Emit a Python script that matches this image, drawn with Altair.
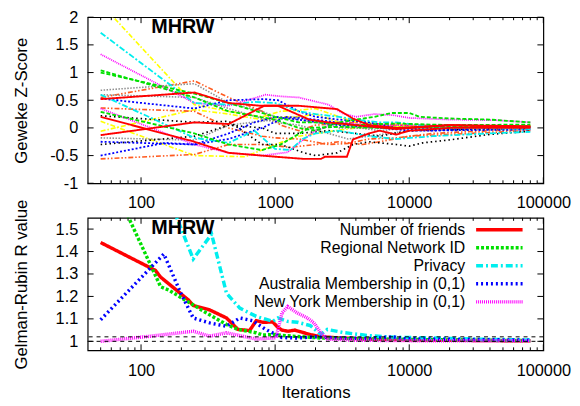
import altair as alt
import pandas as pd

# ---------------- top panel: Geweke Z-score of individual chains ----------------
yel_a_x = [50, 250, 450, 800, 1100, 1500, 2000, 3000, 4000, 6000, 8000, 12000, 20000, 40000, 80000]
yel_a_y = [2.25, 0.42, 0.30, 0.20, 0.30, 0.32, 0.35, 0.20, 0.10, 0.05, 0.08, 0.02, 0.05, 0.03, 0.04]
yel_b_x = [50, 250, 450, 800, 1100, 1500, 2000, 3000, 4000, 8000, 20000, 80000]
yel_b_y = [-0.06, 0.33, 0.25, 0.15, 0.20, 0.20, 0.25, 0.10, 0.05, 0.02, -0.02, 0.02]
yel_c_x = [50, 250, 600, 1000, 1500, 2000, 4000, 10000, 80000]
yel_c_y = [0.12, -0.50, -0.52, -0.30, -0.15, -0.10, 0.00, 0.05, 0.00]
cya_a_x = [50, 250, 450, 700, 1000, 1500, 2000, 3000, 4000, 6000, 8000, 12000, 20000, 40000, 80000]
cya_a_y = [1.72, 0.45, 0.42, 0.47, 0.45, 0.30, 0.25, 0.20, 0.15, 0.10, 0.10, 0.05, 0.00, 0.00, -0.02]
cya_b_x = [50, 250, 450, 700, 1000, 1300, 1600, 2000, 3000, 5000, 8000, 15000, 26000, 40000, 80000]
cya_b_y = [0.60, -0.18, -0.27, -0.05, -0.38, -0.40, -0.20, -0.10, -0.05, -0.15, -0.20, -0.15, -0.12, -0.10, -0.07]
mag_a_x = [50, 250, 450, 850, 1100, 1500, 2500, 3200, 4000, 5500, 7600, 10000, 20000, 44000, 80000]
mag_a_y = [1.33, 0.45, 0.40, 0.60, 0.57, 0.55, 0.42, 0.26, 0.20, 0.25, 0.23, 0.18, 0.15, 0.14, 0.10]
mag_b_x = [50, 250, 450, 800, 1240, 1640, 2000, 3000, 5000, 10000, 80000]
mag_b_y = [0.35, -0.30, -0.45, -0.50, -0.44, -0.20, -0.05, 0.10, 0.05, 0.05, 0.03]
grn_a_x = [50, 250, 450, 1000, 1500, 2000, 3000, 4000, 5500, 7400, 10000, 12000, 20000, 40000, 80000]
grn_a_y = [1.04, 0.55, 0.30, 0.15, 0.00, -0.05, 0.10, 0.15, 0.20, 0.27, 0.27, 0.20, 0.17, 0.15, 0.10]
grn_b_x = [50, 250, 450, 1000, 1500, 2000, 4000, 8000, 20000, 80000]
grn_b_y = [1.00, 0.62, 0.45, 0.20, 0.10, 0.10, 0.05, 0.08, 0.05, 0.06]
grn_c_x = [50, 250, 450, 800, 1100, 1400, 1800, 3000, 6000, 20000, 80000]
grn_c_y = [0.29, -0.10, -0.30, -0.40, -0.30, -0.15, 0.00, 0.02, 0.00, 0.02, 0.03]
gry_a_x = [50, 250, 450, 800, 1000, 1500, 2000, 3000, 6000, 10000, 80000]
gry_a_y = [0.68, 0.80, 0.45, 0.30, 0.20, 0.15, 0.10, 0.05, -0.05, 0.00, 0.02]
gry_b_x = [50, 250, 450, 1000, 1500, 2500, 3500, 5000, 10000, 80000]
gry_b_y = [0.60, 0.55, 0.35, 0.10, 0.05, -0.10, -0.20, -0.15, -0.05, -0.02]
gry_c_x = [50, 250, 450, 1000, 1500, 3000, 6000, 80000]
gry_c_y = [-0.18, -0.22, 0.05, 0.15, 0.20, 0.00, 0.00, 0.00]
red_a_x = [50, 250, 450, 780, 1500, 2900, 3800, 5000, 8000, 12000, 20000, 40000, 80000]
red_a_y = [0.52, 0.64, 0.45, 0.40, 0.40, 0.34, 0.17, 0.05, 0.00, 0.02, 0.05, 0.03, 0.02]
red_b_x = [50, 250, 450, 830, 1050, 1300, 1800, 2500, 4000, 8000, 20000, 80000]
red_b_y = [-0.13, 0.10, 0.07, 0.40, 0.40, 0.30, 0.15, 0.10, 0.05, -0.02, 0.05, 0.03]
red_c_x = [50, 250, 450, 1000, 1640, 2200, 2350, 3430, 3800, 5000, 6000, 8000, 10000, 20000, 80000]
red_c_y = [0.20, -0.25, -0.45, -0.52, -0.56, -0.56, -0.52, -0.52, -0.21, -0.10, -0.05, -0.12, -0.05, 0.00, 0.00]
blu_a_x = [50, 250, 450, 830, 1050, 1500, 2000, 3000, 5000, 8000, 15000, 40000, 80000]
blu_a_y = [0.53, 0.35, 0.50, 0.52, 0.50, 0.30, 0.20, 0.15, 0.10, 0.00, -0.05, 0.00, 0.02]
blu_b_x = [50, 250, 450, 800, 1200, 2000, 4000, 10000, 80000]
blu_b_y = [-0.25, -0.30, -0.20, 0.00, 0.20, 0.15, 0.05, -0.05, -0.03]
blu_c_x = [50, 150, 250, 450, 700, 1000, 1500, 3000, 8000, 80000]
blu_c_y = [-0.50, -0.27, -0.30, -0.10, 0.10, 0.20, 0.15, 0.05, 0.00, 0.00]
orn_a_x = [50, 250, 450, 800, 1100, 1500, 2000, 4000, 8000, 80000]
orn_a_y = [0.55, 0.85, 0.55, 0.30, 0.05, -0.05, 0.05, 0.10, 0.05, 0.02]
orn_b_x = [50, 250, 450, 800, 1000, 1500, 2500, 3500, 5000, 8000, 15000, 40000, 80000]
orn_b_y = [0.36, 0.30, 0.00, -0.15, -0.18, -0.20, -0.30, -0.28, -0.20, -0.18, -0.10, -0.05, -0.03]
orn_c_x = [50, 250, 450, 800, 1300, 2000, 3000, 4500, 6000, 10000, 80000]
orn_c_y = [-0.56, -0.48, -0.30, -0.30, -0.35, -0.30, -0.25, -0.30, -0.25, -0.15, -0.05]
blk_a_x = [50, 250, 450, 800, 1100, 1640, 2000, 2900, 3800, 5000, 8000, 10000, 12600, 21000, 39000, 78000]
blk_a_y = [0.22, 0.10, 0.12, -0.30, -0.30, -0.45, -0.50, -0.45, -0.30, -0.25, -0.30, -0.33, -0.27, -0.21, -0.12, -0.06]
blk_b_x = [50, 250, 450, 800, 1000, 1500, 2500, 4000, 6000, 10000, 80000]
blk_b_y = [-0.30, -0.15, 0.05, 0.00, -0.10, -0.10, -0.05, -0.10, -0.15, -0.05, 0.00]

top_lines = [
    ("ya", "yellow", yel_a_x, yel_a_y), ("yb", "yellow", yel_b_x, yel_b_y), ("yc", "yellow", yel_c_x, yel_c_y),
    ("oa", "orange", orn_a_x, orn_a_y), ("ob", "orange", orn_b_x, orn_b_y), ("oc", "orange", orn_c_x, orn_c_y),
    ("ga", "gray", gry_a_x, gry_a_y), ("gb", "gray", gry_b_x, gry_b_y), ("gc", "gray", gry_c_x, gry_c_y),
    ("ka", "black", blk_a_x, blk_a_y), ("kb", "black", blk_b_x, blk_b_y),
    ("ma", "magenta", mag_a_x, mag_a_y), ("mb", "magenta", mag_b_x, mag_b_y),
    ("ba", "blue", blu_a_x, blu_a_y), ("bb", "blue", blu_b_x, blu_b_y), ("bc", "blue", blu_c_x, blu_c_y),
    ("ca", "cyan", cya_a_x, cya_a_y), ("cb", "cyan", cya_b_x, cya_b_y),
    ("na", "green", grn_a_x, grn_a_y), ("nb", "green", grn_b_x, grn_b_y), ("nc", "green", grn_c_x, grn_c_y),
    ("ra", "red", red_a_x, red_a_y), ("rb", "red", red_b_x, red_b_y), ("rc", "red", red_c_x, red_c_y),
]

kinds = ["red", "green", "cyan", "blue", "magenta", "black", "yellow", "orange", "gray"]
kind_colors = ["#ff0000", "#00e000", "#00eeee", "#0000ff", "#ff00ff", "#000000", "#ffff00", "#ff5a1e", "#909090"]
kind_dash = [[1, 0], [4, 2], [6, 2, 2, 2], [2, 2], [1, 1], [1.5, 3], [5, 2, 1.5, 2], [5, 2, 1.5, 2, 1.5, 2], [1.5, 1.5]]
kind_width = [1.9, 1.6, 1.6, 1.6, 1.5, 1.6, 1.6, 1.6, 1.5]

# ---------------- bottom panel: Gelman-Rubin R ----------------
gr_names = ["Number of friends", "Regional Network ID", "Privacy",
            "Australia Membership in (0,1)", "New York Membership in (0,1)"]
gr_colors = ["#ff0000", "#00e000", "#00eeee", "#0000ff", "#ff00ff"]
gr_dash = [[1, 0], [3, 2], [7, 3, 2, 3], [2, 3], [1, 1]]

friends_x = [50, 128, 140, 226, 245, 325, 434, 528, 645, 723, 810, 960, 1050, 1125, 1250, 1400, 1600, 1830, 2200, 3000, 5000, 10000, 20000, 80000]
friends_y = [1.44, 1.316, 1.286, 1.184, 1.16, 1.14, 1.104, 1.053, 1.048, 1.092, 1.085, 1.086, 1.062, 1.05, 1.045, 1.05, 1.04, 1.03, 1.02, 1.015, 1.01, 1.007, 1.005, 1.002]
regional_x = [50, 81, 140, 161, 233, 325, 434, 528, 723, 810, 985, 1200, 1600, 2200, 3500, 6000, 12000, 30000, 80000]
regional_y = [1.82, 1.55, 1.243, 1.228, 1.17, 1.118, 1.075, 1.053, 1.038, 1.028, 1.03, 1.025, 1.02, 1.015, 1.012, 1.01, 1.008, 1.005, 1.003]
privacy_x = [50, 120, 185, 245, 336, 434, 545, 723, 960, 1050, 1240, 1466, 1830, 2190, 2450, 3240, 5070, 8000, 15000, 30000, 80000]
privacy_y = [2.6, 1.9, 1.55, 1.367, 1.477, 1.214, 1.148, 1.111, 1.089, 1.104, 1.089, 1.085, 1.07, 1.031, 1.053, 1.039, 1.025, 1.018, 1.015, 1.01, 1.006]
australia_x = [50, 148, 196, 245, 325, 434, 545, 680, 850, 1125, 1466, 2000, 3000, 5000, 7500, 9000, 15000, 30000, 80000]
australia_y = [1.096, 1.389, 1.22, 1.104, 1.082, 1.067, 1.104, 1.092, 1.053, 1.017, 1.015, 1.02, 1.015, 1.012, 1.02, 1.012, 1.01, 1.008, 1.005]
newyork_x = [50, 118, 245, 325, 434, 723, 1015, 1125, 1240, 1466, 1740, 1950, 2190, 2450, 4000, 10000, 80000]
newyork_y = [1.0, 1.023, 1.045, 1.023, 1.038, 1.01, 1.016, 1.126, 1.155, 1.126, 1.104, 1.082, 1.038, 1.01, 1.005, 1.003, 1.002]
gr_series = [(friends_x, friends_y), (regional_x, regional_y), (privacy_x, privacy_y),
             (australia_x, australia_y), (newyork_x, newyork_y)]
gr_refs = [1.0, 1.02]

# axis ticks
x_major = [100, 1000, 10000, 100000]
x_minor = [50, 60, 70, 80, 90, 200, 300, 400, 500, 600, 700, 800, 900,
           2000, 3000, 4000, 5000, 6000, 7000, 8000, 9000,
           20000, 30000, 40000, 50000, 60000, 70000, 80000, 90000]
top_yticks = [-1, -0.5, 0, 0.5, 1, 1.5, 2]
bot_yticks = [1, 1.1, 1.2, 1.3, 1.4, 1.5]

# ---------------- build tables ----------------
rows = []
for sid, kind, xs, ys in top_lines:
    for i, (xv, yv) in enumerate(zip(xs, ys)):
        rows.append({"sid": sid, "kind": kind, "x": xv, "y": yv, "o": i})
df_top = pd.DataFrame(rows)

rows = []
for name, (xs, ys) in zip(gr_names, gr_series):
    for i, (xv, yv) in enumerate(zip(xs, ys)):
        rows.append({"series": name, "x": xv, "y": yv, "o": i})
df_bot = pd.DataFrame(rows)
df_leg = pd.DataFrame({"series": gr_names, "row": list(range(len(gr_names)))})

FONT = "Liberation Sans"
W = 461
H1 = 168
H2 = 134
xscale = alt.Scale(type="log", domain=[40, 100000], nice=False)


def x_axis(title=None, title_y=None):
    kw = dict(values=x_major, labelExpr="datum.value + ''", ticks=False, tickSize=0, domain=False,
              grid=False, labelBaseline="alphabetic", labelPadding=25, labelFontSize=16.5,
              labelFont=FONT, labelColor="black", labelFlush=False)
    if title:
        kw.update(title=title, titleFont=FONT, titleFontSize=17, titleFontWeight="normal",
                  titleColor="black", titleBaseline="alphabetic", titleY=title_y, titleX=W / 2)
    else:
        kw.update(title=None)
    return alt.Axis(**kw)


def y_axis(title, values, H):
    return alt.Axis(values=values, labelExpr="datum.value + ''", ticks=False, tickSize=0, domain=False,
                    grid=False, labelPadding=10, labelFontSize=16.5, labelFont=FONT, labelColor="black",
                    labelFlush=False, labelBaseline="middle",
                    title=title, titleFont=FONT, titleFontSize=17, titleFontWeight="normal",
                    titleColor="black", titleX=-62, titleY=H / 2, titleBaseline="alphabetic",
                    titleAlign="center")


def tick_layers(xaxis, yscale, yaxis, yvals, H):
    dmaj = pd.DataFrame({"x": x_major})
    dmin = pd.DataFrame({"x": x_minor})
    dy = pd.DataFrame({"y": yvals})
    xt = alt.X("x:Q", scale=xscale, axis=xaxis)
    yt = alt.Y("y:Q", scale=yscale, axis=yaxis)
    base = dict(color="black", strokeWidth=1)
    return [
        alt.Chart(dmaj).mark_rule(**base).encode(x=xt, y=alt.value(H), y2=alt.value(H - 6)),
        alt.Chart(dmaj).mark_rule(**base).encode(x=xt, y=alt.value(0), y2=alt.value(6)),
        alt.Chart(dmin).mark_rule(**base).encode(x=xt, y=alt.value(H), y2=alt.value(H - 3)),
        alt.Chart(dmin).mark_rule(**base).encode(x=xt, y=alt.value(0), y2=alt.value(3)),
        alt.Chart(dy).mark_rule(**base).encode(y=yt, x=alt.value(0), x2=alt.value(6)),
        alt.Chart(dy).mark_rule(**base).encode(y=yt, x=alt.value(W - 6), x2=alt.value(W)),
    ]


# ---------------- top chart ----------------
yscale_top = alt.Scale(domain=[-1, 2], nice=False, zero=False)
xax_top = x_axis()
yax_top = y_axis("Geweke Z-Score", top_yticks, H1)
top_main = alt.Chart(df_top).mark_line(clip=True).encode(
    x=alt.X("x:Q", scale=xscale, axis=xax_top),
    y=alt.Y("y:Q", scale=yscale_top, axis=yax_top),
    color=alt.Color("kind:N", scale=alt.Scale(domain=kinds, range=kind_colors), legend=None),
    strokeDash=alt.StrokeDash("kind:N", scale=alt.Scale(domain=kinds, range=kind_dash), legend=None),
    strokeWidth=alt.StrokeWidth("kind:N", scale=alt.Scale(domain=kinds, range=kind_width), legend=None),
    detail="sid:N",
    order="o:Q",
)
lab_top = alt.Chart(pd.DataFrame({"x": [205], "y": [1.82], "t": ["MHRW"]})).mark_text(
    font=FONT, fontSize=20, fontWeight="bold", color="black", baseline="middle", align="center"
).encode(x=alt.X("x:Q", scale=xscale, axis=xax_top), y=alt.Y("y:Q", scale=yscale_top, axis=yax_top), text="t:N")

top = alt.layer(top_main, lab_top, *tick_layers(xax_top, yscale_top, yax_top, top_yticks, H1)).properties(
    width=W, height=H1)

# ---------------- bottom chart ----------------
yscale_bot = alt.Scale(domain=[0.96, 1.55], nice=False, zero=False)
xax_bot = x_axis("Iterations", 48)
yax_bot = y_axis("Gelman-Rubin R value", bot_yticks, H2)
bot_lines = alt.Chart(df_bot).mark_line(clip=True, strokeWidth=3.5).encode(
    x=alt.X("x:Q", scale=xscale, axis=xax_bot),
    y=alt.Y("y:Q", scale=yscale_bot, axis=yax_bot),
    color=alt.Color("series:N", scale=alt.Scale(domain=gr_names, range=gr_colors), legend=None),
    strokeDash=alt.StrokeDash("series:N", scale=alt.Scale(domain=gr_names, range=gr_dash), legend=None),
    detail="series:N",
    order="o:Q",
)
bot_refs = alt.Chart(pd.DataFrame({"y": gr_refs})).mark_rule(
    color="black", strokeWidth=1, strokeDash=[4, 4]
).encode(y=alt.Y("y:Q", scale=yscale_bot, axis=yax_bot))
lab_bot = alt.Chart(pd.DataFrame({"x": [205], "y": [1.505], "t": ["MHRW"]})).mark_text(
    font=FONT, fontSize=20, fontWeight="bold", color="black", baseline="middle", align="center"
).encode(x=alt.X("x:Q", scale=xscale, axis=xax_bot), y=alt.Y("y:Q", scale=yscale_bot, axis=yax_bot), text="t:N")

bot_inner = alt.layer(bot_lines, bot_refs, lab_bot, *tick_layers(xax_bot, yscale_bot, yax_bot, bot_yticks, H2))

leg_y = alt.Y("row:Q", scale=alt.Scale(domain=[0, 4], range=[12, 85]), axis=None)
leg_text = alt.Chart(df_leg).mark_text(
    font=FONT, fontSize=16, color="black", align="right", baseline="middle"
).encode(x=alt.value(382), y=leg_y, text="series:N")
leg_line = alt.Chart(df_leg).mark_rule(strokeWidth=3.5).encode(
    x=alt.value(393), x2=alt.value(440), y=leg_y,
    color=alt.Color("series:N", scale=alt.Scale(domain=gr_names, range=gr_colors), legend=None),
    strokeDash=alt.StrokeDash("series:N", scale=alt.Scale(domain=gr_names, range=gr_dash), legend=None),
)
legend = alt.layer(leg_text, leg_line)

bottom = alt.layer(bot_inner, legend).resolve_scale(y="independent").properties(width=W, height=H2)

chart = alt.vconcat(top, bottom, spacing=35, bounds="flush").resolve_scale(
    color="independent", strokeDash="independent", strokeWidth="independent"
).properties(
    padding={"left": 3.6, "top": -2, "right": 0, "bottom": 0}
).configure_view(stroke="black", strokeWidth=1.2)

chart.save("out.html", embed_options={"renderer": "svg", "actions": False})
